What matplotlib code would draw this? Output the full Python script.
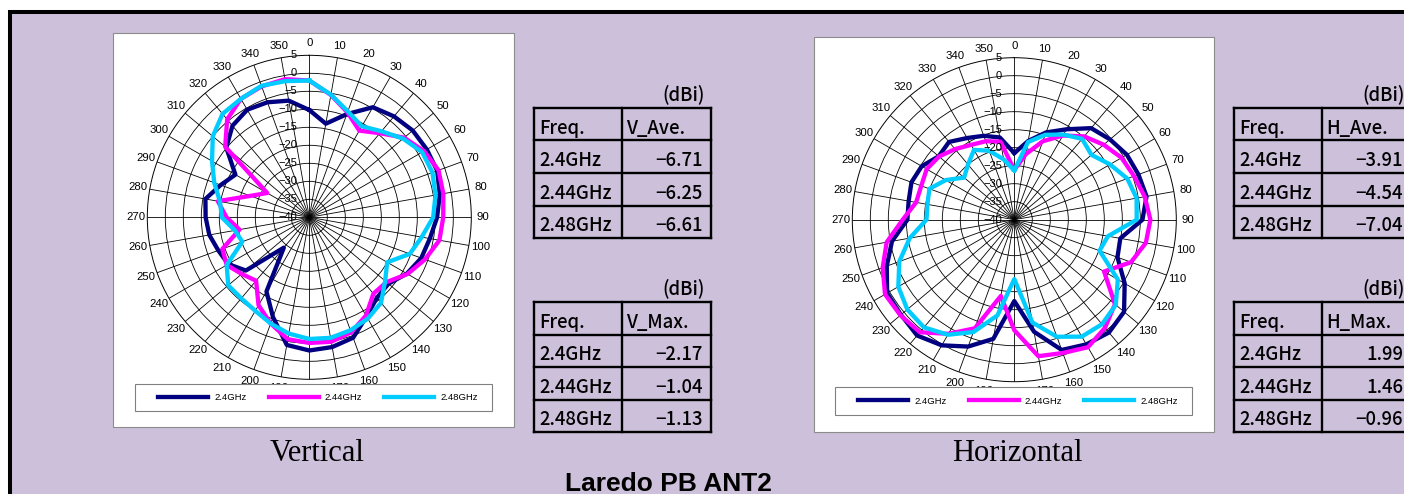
import numpy as np
import matplotlib
matplotlib.use('Agg')
import matplotlib.pyplot as plt
from matplotlib.patches import Rectangle

W, H = 1404, 494

angles = np.arange(0, 360, 10)
freqs = ['2.4GHz', '2.44GHz', '2.48GHz']
colors = ['#000080', '#FF00FF', '#00CCFF']

# vertical plane (dBi), 0..350 deg step 10
v_24 = [-10.2, -13.6, -9.5, -4.7, -3.4, -2.5, -2.3, -2.2, -3.2, -4.5, -6.0, -6.9,
        -8.7, -11.3, -10.8, -8.2, -4.4, -3.4, -3.0, -4.0, -10.5, -16.2, -29.0, -17.0,
        -14.0, -13.1, -11.8, -11.2, -10.7, -13.8, -16.3, -9.9, -6.8, -5.5, -6.0, -7.1]
v_244 = [-2.0, -5.5, -9.0, -12.2, -9.5, -5.6, -3.2, -1.8, -2.2, -2.8, -3.3, -5.8,
         -8.5, -12.0, -12.3, -8.5, -6.0, -4.9, -5.1, -5.6, -8.6, -11.8, -17.0, -15.5,
         -13.5, -14.3, -20.3, -17.0, -14.2, -22.6, -26.5, -9.5, -4.5, -2.0, -1.3, -1.04]
v_248 = [-2.0, -5.4, -8.7, -10.8, -8.8, -6.0, -3.8, -3.6, -4.4, -5.6, -8.3, -10.3,
         -15.0, -12.5, -9.0, -7.5, -6.6, -6.0, -6.2, -7.2, -8.6, -10.0, -10.6, -10.6,
         -13.5, -20.2, -19.0, -15.7, -14.8, -11.9, -8.8, -5.0, -2.5, -2.0, -1.13, -1.6]

# horizontal plane (dBi)
h_24 = [-21.5, -17.8, -14.2, -11.0, -6.8, -5.3, -3.9, -3.3, -2.7, -4.4, -10.1, -9.5,
        -4.6, -0.2, 0.9, 0.0, -1.5, -8.4, -17.4, -6.4, -2.5, 0.3, 1.99, 1.1,
        0.8, -2.3, -5.5, -10.3, -10.2, -9.6, -10.3, -12.6, -11.8, -13.8, -15.2, -16.8]
h_244 = [-26.2, -21.5, -16.8, -13.0, -9.8, -7.6, -5.6, -4.6, -3.2, -2.2, -2.9, -5.5,
         -11.2, -3.5, -0.8, 0.9, -0.6, -1.5, -9.3, -18.5, -7.9, -3.4, 0.8, 1.3,
         1.46, -1.1, -4.0, -9.0, -12.3, -12.5, -11.9, -12.7, -14.4, -16.0, -16.8, -18.0]
h_248 = [-26.3, -18.1, -14.9, -12.7, -10.7, -12.0, -9.3, -6.6, -5.5, -6.0, -13.6, -14.8,
         -6.8, -3.2, -2.1, -2.5, -5.4, -11.0, -23.5, -13.0, -6.8, -3.1, -0.96, -1.2,
         -2.8, -6.0, -10.5, -15.6, -15.5, -14.9, -18.0, -21.8, -20.0, -17.6, -19.6, -23.0]

v_ave = [-6.71, -6.25, -6.61]
v_max = [-2.17, -1.04, -1.13]
h_ave = [-3.91, -4.54, -7.04]
h_max = [1.99, 1.46, -0.96]

r_ticks = np.arange(-40, 10, 5)

num_font = ['Liberation Sans', 'DejaVu Sans']
tab_font = ['Noto Sans CJK JP', 'DejaVu Sans']


def fmt(v):
    return f'{v:.2f}'.replace('-', '\u2212')


def fig_rect(x, y, w, h):
    # pixel box (top-left origin) -> figure fraction
    return [x / W, 1 - (y + h) / H, w / W, h / H]


fig = plt.figure(figsize=(W / 100, H / 100), dpi=100)

bg = fig.add_axes([0, 0, 1, 1], zorder=-1)
bg.set_xlim(0, W)
bg.set_ylim(H, 0)
bg.axis('off')
bg.add_patch(Rectangle((10, 12), 1600, 700, facecolor='#CCC0DA', edgecolor='black', lw=2.9))
bg.add_patch(Rectangle((113, 33), 401, 394, facecolor='white', edgecolor='#8c8c8c', lw=0.8))
bg.add_patch(Rectangle((814, 37), 400, 395, facecolor='white', edgecolor='#8c8c8c', lw=0.8))


def draw_table(x0, y0, head, vals):
    rows = [y0, y0 + 32.5, y0 + 65, y0 + 97.5, y0 + 130]
    xs = [x0, x0 + 88, x0 + 177]
    for y in rows:
        bg.plot([xs[0], xs[2]], [y, y], color='black', lw=1.7, solid_capstyle='projecting')
    for x in xs:
        bg.plot([x, x], [rows[0], rows[-1]], color='black', lw=1.7, solid_capstyle='projecting')
    fs = 13.3
    kw = dict(va='baseline', fontsize=fs, family=tab_font, fontweight='medium')
    bg.text(xs[2] - 6, y0 - 8, '(dBi)', ha='right', **kw)
    bg.text(xs[0] + 5, rows[1] - 7, 'Freq.', ha='left', **kw)
    bg.text(xs[1] + 4, rows[1] - 7, head, ha='left', **kw)
    for i in range(3):
        bg.text(xs[0] + 5, rows[i + 2] - 7, freqs[i], ha='left', **kw)
        bg.text(xs[2] - 8, rows[i + 2] - 7, fmt(vals[i]), ha='right', **kw)


draw_table(534, 108, 'V_Ave.', v_ave)
draw_table(534, 302, 'V_Max.', v_max)
draw_table(1234, 108, 'H_Ave.', h_ave)
draw_table(1234, 302, 'H_Max.', h_max)

bg.text(317, 461, 'Vertical', ha='center', va='baseline', fontsize=22, family='Liberation Serif')
bg.text(1017, 461, 'Horizontal', ha='center', va='baseline', fontsize=22, family='Liberation Serif')
bg.text(668, 491, 'Laredo PB ANT2', ha='center', va='baseline', fontsize=19,
        fontweight='bold', family=num_font)


def polar_chart(cx, cy, series, leg_box):
    R = 162
    ax = fig.add_axes(fig_rect(cx - R, cy - R, 2 * R, 2 * R), projection='polar', zorder=1)
    ax.set_theta_zero_location('N')
    ax.set_theta_direction(-1)
    ax.set_ylim(-40, 5)
    ax.set_axisbelow(True)
    ax.set_yticks(r_ticks[1:-1])
    ax.set_yticklabels([])
    ax.set_xticks(np.deg2rad(angles))
    # 180 sits under the legend box in the original
    ax.set_xticklabels(['' if a == 180 else str(a) for a in angles], fontsize=8.2, family=num_font)
    ax.tick_params(axis='x', length=0, pad=1.5)
    ax.grid(True, color='black', lw=0.6)
    ax.spines['polar'].set_color('black')
    ax.spines['polar'].set_linewidth(0.7)
    for v in r_ticks:
        lab = str(v).replace('-', '\u2212')
        ax.annotate(lab, xy=(0, v), xytext=(-9, 0), textcoords='offset points',
                    ha='right', va='center', fontsize=8, family=num_font)
    th = np.deg2rad(np.append(angles, 360))
    handles = []
    for vals, c in zip(series, colors):
        ln, = ax.plot(th, np.append(vals, vals[0]), color=c, lw=3.1)
        handles.append(ln)

    bx, by, bw, bh = leg_box
    fig.add_artist(Rectangle((bx / W, 1 - (by + bh) / H), bw / W, bh / H,
                             transform=fig.transFigure, facecolor='white',
                             edgecolor='#808080', lw=0.8, zorder=4))
    fig.legend(handles, freqs, loc='center', ncol=3, mode='expand',
               bbox_to_anchor=fig_rect(bx + 23, by, bw - 37, bh),
               bbox_transform=fig.transFigure, frameon=False,
               prop={'family': num_font, 'size': 6.8},
               handlelength=5.3, handletextpad=0.65, borderpad=0, borderaxespad=0)
    return ax


polar_chart(309.3, 217.3, [v_24, v_244, v_248], (135, 384, 357, 27))
polar_chart(1014.3, 219.7, [h_24, h_244, h_248], (835, 387, 357, 28))

fig.savefig('out.png', dpi=100)
plt.close()
